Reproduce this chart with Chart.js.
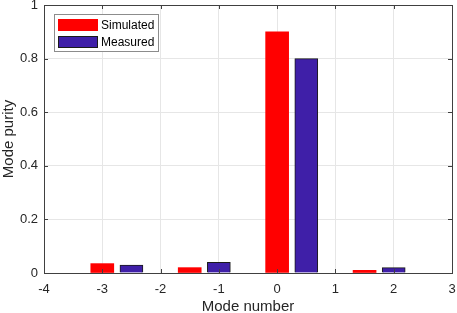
<!DOCTYPE html>
<html>
<head>
<meta charset="utf-8">
<script src="https://cdn.jsdelivr.net/npm/chart.js@4"></script>
<style>
  html, body { margin: 0; padding: 0; background: #fff; }
  #wrap { width: 457px; height: 313px; }
</style>
</head>
<body>
<div id="wrap"><canvas id="grafico"></canvas></div>
<script>
// data
const simModes = [-3, -1.5, 0, 1.5];
const simValues = [0.035, 0.02, 0.9, 0.01];
const measModes = [-2.5, -1, 0.5, 2];
const measValues = [0.03, 0.04, 0.8, 0.02];
const xTicks = [-4, -3, -2, -1, 0, 1, 2, 3];
const yTicks = [0, 0.2, 0.4, 0.6, 0.8, 1];
const seriesNames = ['Simulated', 'Measured'];

const rojo = '#ff0000';
const azul = '#3f1fa8';
const textColor = '#262626';

// box around the axes, inward ticks and legend inside plot
const marcoPlugin = {
    id: 'marco',
    afterDraw(chart) {
        const ctx = chart.ctx;
        const a = chart.chartArea;
        const xs = chart.scales.x, ys = chart.scales.y;
        ctx.save();
        ctx.strokeStyle = '#404040';
        ctx.lineWidth = 1;
        ctx.beginPath();
        xTicks.forEach(function (t) {
            const px = Math.round(xs.getPixelForValue(t)) + 0.5;
            ctx.moveTo(px, a.bottom); ctx.lineTo(px, a.bottom - 4);
            ctx.moveTo(px, a.top); ctx.lineTo(px, a.top + 4);
        });
        yTicks.forEach(function (t) {
            const py = Math.round(ys.getPixelForValue(t)) + 0.5;
            ctx.moveTo(a.left, py); ctx.lineTo(a.left + 4, py);
            ctx.moveTo(a.right, py); ctx.lineTo(a.right - 4, py);
        });
        ctx.stroke();
        ctx.strokeRect(Math.round(a.left) + 0.5, Math.round(a.top) + 0.5,
            Math.round(a.right - a.left), Math.round(a.bottom - a.top));

        // legend
        const lx = Math.round(a.left) + 10, ly = Math.round(a.top) + 9;
        ctx.fillStyle = '#fff';
        ctx.fillRect(lx, ly, 104, 37);
        ctx.strokeStyle = '#8c8c8c';
        ctx.strokeRect(lx + 0.5, ly + 0.5, 104, 37);
        const cols = [rojo, azul];
        ctx.font = '12px "Liberation Sans", Arial, sans-serif';
        ctx.textBaseline = 'middle';
        seriesNames.forEach(function (n, i) {
            const sy = ly + 5 + i * 17;
            ctx.fillStyle = cols[i];
            ctx.fillRect(lx + 4, sy, 40, 12);
            if (i === 1) {
                ctx.strokeStyle = '#1a1a1a';
                ctx.strokeRect(lx + 4.5, sy + 0.5, 39, 11);
            }
            ctx.fillStyle = '#000';
            ctx.fillText(n, lx + 47, sy + 6.5);
        });
        ctx.restore();
    }
};

const ctx = document.getElementById('grafico').getContext('2d');
new Chart(ctx, {
    type: 'bar',
    data: {
        datasets: [{
            label: seriesNames[0],
            data: simModes.map(function (m, i) { return { x: m, y: simValues[i] }; }),
            backgroundColor: rojo,
            borderColor: rojo,
            borderWidth: 0,
            barThickness: 23
        }, {
            label: seriesNames[1],
            data: measModes.map(function (m, i) { return { x: m, y: measValues[i] }; }),
            backgroundColor: azul,
            borderColor: '#1a1a1a',
            borderWidth: 1,
            barThickness: 23
        }]
    },
    options: {
        responsive: true,
        maintainAspectRatio: false,
        animation: false,
        layout: { padding: { top: 5, right: 5, left: 0, bottom: 0 } },
        plugins: {
            legend: { display: false },
            tooltip: { enabled: false }
        },
        datasets: { bar: { grouped: false } },
        scales: {
            x: {
                type: 'linear',
                min: -4,
                max: 3,
                offset: false,
                afterBuildTicks: function (s) { s.ticks = xTicks.map(function (v) { return { value: v }; }); },
                ticks: {
                    color: textColor,
                    font: { family: '"Liberation Sans", Arial', size: 13 },
                    padding: 9,
                    maxRotation: 0
                },
                grid: { color: '#e6e6e6', drawTicks: false, offset: false },
                border: { display: false },
                title: {
                    display: true,
                    text: 'Mode number',
                    color: textColor,
                    font: { family: '"Liberation Sans", Arial', size: 15 },
                    padding: { top: 2, bottom: -3 }
                },
                afterFit: function (s) { s.height = 40; s.paddingRight = 0; s.paddingLeft = 0; }
            },
            y: {
                min: 0,
                max: 1,
                afterBuildTicks: function (s) { s.ticks = yTicks.map(function (v) { return { value: v }; }); },
                ticks: {
                    color: textColor,
                    font: { family: '"Liberation Sans", Arial', size: 13 },
                    padding: 6,
                    callback: function (v) { return String(Math.round(v * 10) / 10); }
                },
                grid: { color: '#e6e6e6', drawTicks: false },
                border: { display: false },
                title: {
                    display: true,
                    text: 'Mode purity',
                    color: textColor,
                    font: { family: '"Liberation Sans", Arial', size: 15 },
                    padding: { top: 0, bottom: 2 }
                },
                afterFit: function (s) { s.width = 44; s.paddingTop = 0; s.paddingBottom = 0; }
            }
        }
    },
    plugins: [marcoPlugin]
});
</script>
</body>
</html>
